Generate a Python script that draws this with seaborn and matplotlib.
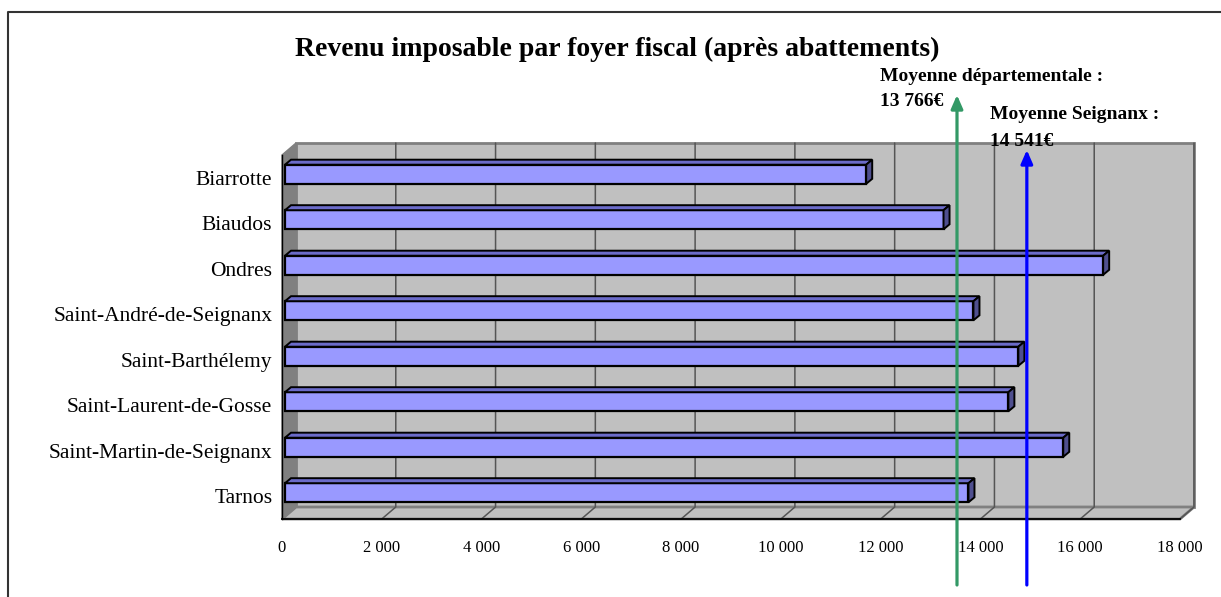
import matplotlib
matplotlib.use("Agg")
import matplotlib.pyplot as plt
import matplotlib.transforms as mtransforms
from matplotlib.patches import Polygon
import seaborn as sns

# -----------------------------
# Data
# -----------------------------
communes = [
    "Biarrotte",
    "Biaudos",
    "Ondres",
    "Saint-André-de-Seignanx",
    "Saint-Barthélemy",
    "Saint-Laurent-de-Gosse",
    "Saint-Martin-de-Seignanx",
    "Tarnos",
]
revenu = [11650, 13200, 16400, 13800, 14700, 14500, 15600, 13700]

x_ticks = list(range(0, 18001, 2000))
x_labels = [f"{t:,}".replace(",", " ") for t in x_ticks]

# reference lines (drawn as arrows, where they sit in the picture)
moyennes_labels = ["Moyenne départementale :\n13 766€", "Moyenne Seignanx :\n14 541€"]
moyennes_x = [13530, 14930]

# -----------------------------
# Figure
# -----------------------------
sns.set_style("white")
plt.rcParams["font.family"] = ["Liberation Serif", "DejaVu Serif"]
plt.rcParams["text.color"] = "black"
plt.rcParams["xtick.labelcolor"] = "black"
plt.rcParams["ytick.labelcolor"] = "black"

W, H = 1221, 597
fig = plt.figure(figsize=(W / 100, H / 100), dpi=100)

# front plane of the 3D box, in pixels
left_px, right_px, top_px, bottom_px = 282, 1180, 155, 519
ax = fig.add_axes([left_px / W, 1 - bottom_px / H,
                   (right_px - left_px) / W, (bottom_px - top_px) / H])
ax.patch.set_visible(False)

sns.barplot(x=revenu, y=communes, orient="h", color="#9999FF",
            saturation=1, edgecolor="black", linewidth=1.6,
            width=0.42, ax=ax, zorder=5)

ax.set_xlim(0, 18000)
ax.set_ylim(7.5, -0.5)

# pixel -> data conversion for the fake depth
px_x = 18000 / (right_px - left_px)
px_y = 8 / (bottom_px - top_px)
depth_x, depth_y = 14, 12


def back(x, y):
    return (x + depth_x * px_x, y - depth_y * px_y)


# back wall
wall = Polygon([back(0, -0.5), back(18000, -0.5), back(18000, 7.5), back(0, 7.5)],
               closed=True, facecolor="#C0C0C0", edgecolor="#808080",
               linewidth=2, clip_on=False, zorder=0)
ax.add_patch(wall)

# floor
floor = Polygon([(0, 7.5), (18000, 7.5), back(18000, 7.5), back(0, 7.5)],
                closed=True, facecolor="#C0C0C0", edgecolor="#808080",
                linewidth=2, clip_on=False, zorder=1)
ax.add_patch(floor)

# gridlines on wall and floor
for t in x_ticks[1:]:
    bx0, by0 = back(t, -0.5)
    bx1, by1 = back(t, 7.5)
    ax.plot([bx0, bx1, t], [by0, by1, 7.5], color="#555555", linewidth=1.1,
            clip_on=False, zorder=2)

# left wall
side = Polygon([(0, -0.5), back(0, -0.5), back(0, 7.5), (0, 7.5)],
               closed=True, facecolor="#808080", edgecolor="#808080",
               linewidth=1, clip_on=False, zorder=3)
ax.add_patch(side)

# 3D look for the bars
shift = mtransforms.ScaledTranslation(0.03, 0.035, fig.dpi_scale_trans)
bar_tr = ax.transData + shift
bx, by = 6 * px_x, 5 * px_y
for p in ax.patches:
    if p in (wall, floor, side):
        continue
    p.set_transform(bar_tr)
    x0, y0 = p.get_x(), p.get_y()
    x1, y1 = x0 + p.get_width(), y0 + p.get_height()
    top = Polygon([(x0, y0), (x1, y0), (x1 + bx, y0 - by), (x0 + bx, y0 - by)],
                  closed=True, facecolor="#6B6BC9", edgecolor="black",
                  linewidth=1.4, transform=bar_tr, clip_on=False, zorder=6)
    end = Polygon([(x1, y0), (x1, y1), (x1 + bx, y1 - by), (x1 + bx, y0 - by)],
                  closed=True, facecolor="#4F4F8F", edgecolor="black",
                  linewidth=1.4, transform=bar_tr, clip_on=False, zorder=6)
    ax.add_patch(top)
    ax.add_patch(end)

# axes / ticks
for s in ["top", "right"]:
    ax.spines[s].set_visible(False)
ax.spines["bottom"].set_color("black")
ax.spines["bottom"].set_linewidth(1.3)
ax.spines["bottom"].set_zorder(4)
ax.spines["left"].set_color("black")
ax.spines["left"].set_linewidth(1.0)
ax.spines["left"].set_zorder(4)

ax.set_xticks(x_ticks)
ax.set_xticklabels(x_labels, fontsize=12)
ax.tick_params(axis="x", direction="out", length=4.5, width=1, color="black", pad=10.5)

ax.set_yticks(range(len(communes)))
ax.set_yticklabels(communes, fontsize=15.5)
ax.set_yticks([i - 0.5 for i in range(len(communes) + 1)], minor=True)
ax.tick_params(axis="y", which="major", length=0, pad=7)
ax.tick_params(axis="y", which="minor", direction="out", length=5, width=1, color="black")
ax.set_xlabel("")
ax.set_ylabel("")

# arrows for the averages
arrow_colors = ["#339966", "#0000FF"]
arrow_tips = [1 - 95 / H, 1 - 150 / H]
for xv, tip, c in zip(moyennes_x, arrow_tips, arrow_colors):
    ax.annotate("", xy=(xv, tip), xycoords=("data", "figure fraction"),
                xytext=(xv, 1 - 585 / H), textcoords=("data", "figure fraction"),
                arrowprops=dict(arrowstyle="-|>,head_length=0.8,head_width=0.35",
                                color=c, linewidth=2.3, shrinkA=0, shrinkB=0),
                annotation_clip=False, zorder=10)

fig.text(880 / W, 1 - 68 / H, moyennes_labels[0], fontsize=14, fontweight="bold",
         va="top", ha="left", linespacing=1.6)
fig.text(990 / W, 1 - 106 / H, moyennes_labels[1], fontsize=14, fontweight="bold",
         va="top", ha="left", linespacing=1.75)

# title
fig.text(617 / W, 1 - 49 / H, "Revenu imposable par foyer fiscal (après abattements)",
         fontsize=20, fontweight="bold", ha="center", va="center")

# outer frame (only top and left edges are in view)
fig.add_artist(plt.Line2D([8 / W, 8 / W, 1], [0, 1 - 12 / H, 1 - 12 / H],
                          transform=fig.transFigure, color="#333333", linewidth=1.5))

fig.savefig("out.png", dpi=100)
